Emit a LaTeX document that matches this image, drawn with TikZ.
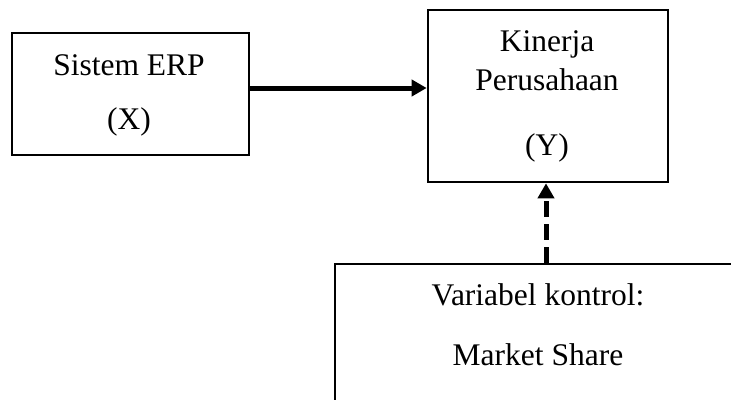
\documentclass[tikz,border=0pt]{standalone}
\usepackage{fontspec}
\setmainfont{Liberation Serif}
\usetikzlibrary{arrows.meta,calc}
\begin{document}
\begin{tikzpicture}[x=1pt,y=-1pt,
  box/.style={draw=black,line width=2.6pt,fill=white,inner sep=0pt},
  txt/.style={anchor=base,inner sep=0pt,font=\fontsize{31.5}{37}\selectfont},
  arr/.style={line width=5pt,-{Triangle[length=15pt,width=16pt]}},
  darr/.style={arr,dash pattern=on 16pt off 7pt}]
\clip (0,0) rectangle (731,399);
\fill[white] (0,0) rectangle (731,399);
\node[box,minimum width=237pt,minimum height=122pt] (erp) at (130.5,94) {};
\node[box,minimum width=240pt,minimum height=172pt] (kin) at (548,96) {};
\node[box,minimum width=406pt,minimum height=160pt] (ctrl) at (538,344) {};
\node[txt] (t1) at (129,75) {Sistem ERP};
\node[txt] (t2) at (129,129) {(X)};
\node[txt] (t3) at (547,51) {Kinerja};
\node[txt] (t4) at (547,90) {Perusahaan};
\node[txt] (t5) at (547,155) {(Y)};
\node[txt] (t6) at (538,305) {Variabel kontrol:};
\node[txt] (t7) at (538,365) {Market Share};
\draw[arr] ([yshift=6pt]erp.east) -- ([yshift=6pt]erp.east -| kin.west);
\draw[darr] ([xshift=8pt]ctrl.north) -- ([xshift=8pt]ctrl.north |- kin.south);
\end{tikzpicture}
\end{document}
